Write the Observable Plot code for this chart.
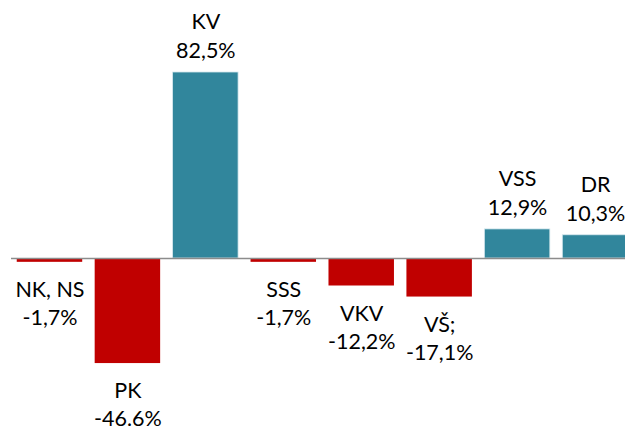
<!DOCTYPE html>
<html>
<head>
<meta charset="utf-8">
<script src="https://cdn.jsdelivr.net/npm/d3@7"></script>
<script src="https://cdn.jsdelivr.net/npm/@observablehq/plot@0.6"></script>
<style>
  html, body { margin: 0; padding: 0; background: #fff; }
  #chart svg { display: block; }
</style>
</head>
<body>
<div id="chart"></div>
<script>
const categories = ["NK, NS", "PK", "KV", "SSS", "VKV", "VŠ;", "VSS", "DR"];
const values = [-1.7, -46.6, 82.5, -1.7, -12.2, -17.1, 12.9, 10.3];
const valueLabels = ["-1,7%", "-46.6%", "82,5%", "-1,7%", "-12,2%", "-17,1%", "12,9%", "10,3%"];

const data = categories.map((c, i) => ({c, v: values[i], lab: valueLabels[i]}));
const pos = data.filter(d => d.v >= 0);
const neg = data.filter(d => d.v < 0);

const teal = "#31869c";
const red = "#c00000";
const font = "Lato, 'Open Sans', sans-serif";
const fs = 21.5;

const chart = Plot.plot({
  width: 625,
  height: 428,
  marginLeft: 11,
  marginRight: 0,
  marginTop: 0,
  marginBottom: 0,
  style: {fontFamily: font, background: "#fff"},
  x: {domain: categories, range: [10.5, 634], paddingInner: 0.16, paddingOuter: 0.08, round: false, axis: null},
  y: {domain: [0, 82.5], range: [258, 72], axis: null},
  marks: [
    Plot.barY(data, {x: "c", y: "v", fill: d => d.v >= 0 ? teal : red, stroke: d => d.v >= 0 ? "#d6e8ee" : "none", strokeWidth: 0.8}),
    Plot.ruleY([0], {stroke: "#8c8c8c", strokeWidth: 1.5}),
    Plot.text(pos, {x: "c", y: "v", text: "c", dy: -50, lineAnchor: "middle", fontSize: fs, fill: "#000"}),
    Plot.text(pos, {x: "c", y: "v", text: "lab", dy: -21, lineAnchor: "middle", fontSize: fs, fill: "#000"}),
    Plot.text(neg, {x: "c", y: "v", text: "c", dy: 28, lineAnchor: "middle", fontSize: fs, fill: "#000"}),
    Plot.text(neg, {x: "c", y: "v", text: "lab", dy: 56, lineAnchor: "middle", fontSize: fs, fill: "#000"})
  ]
});
document.getElementById("chart").appendChild(chart);
</script>
</body>
</html>
